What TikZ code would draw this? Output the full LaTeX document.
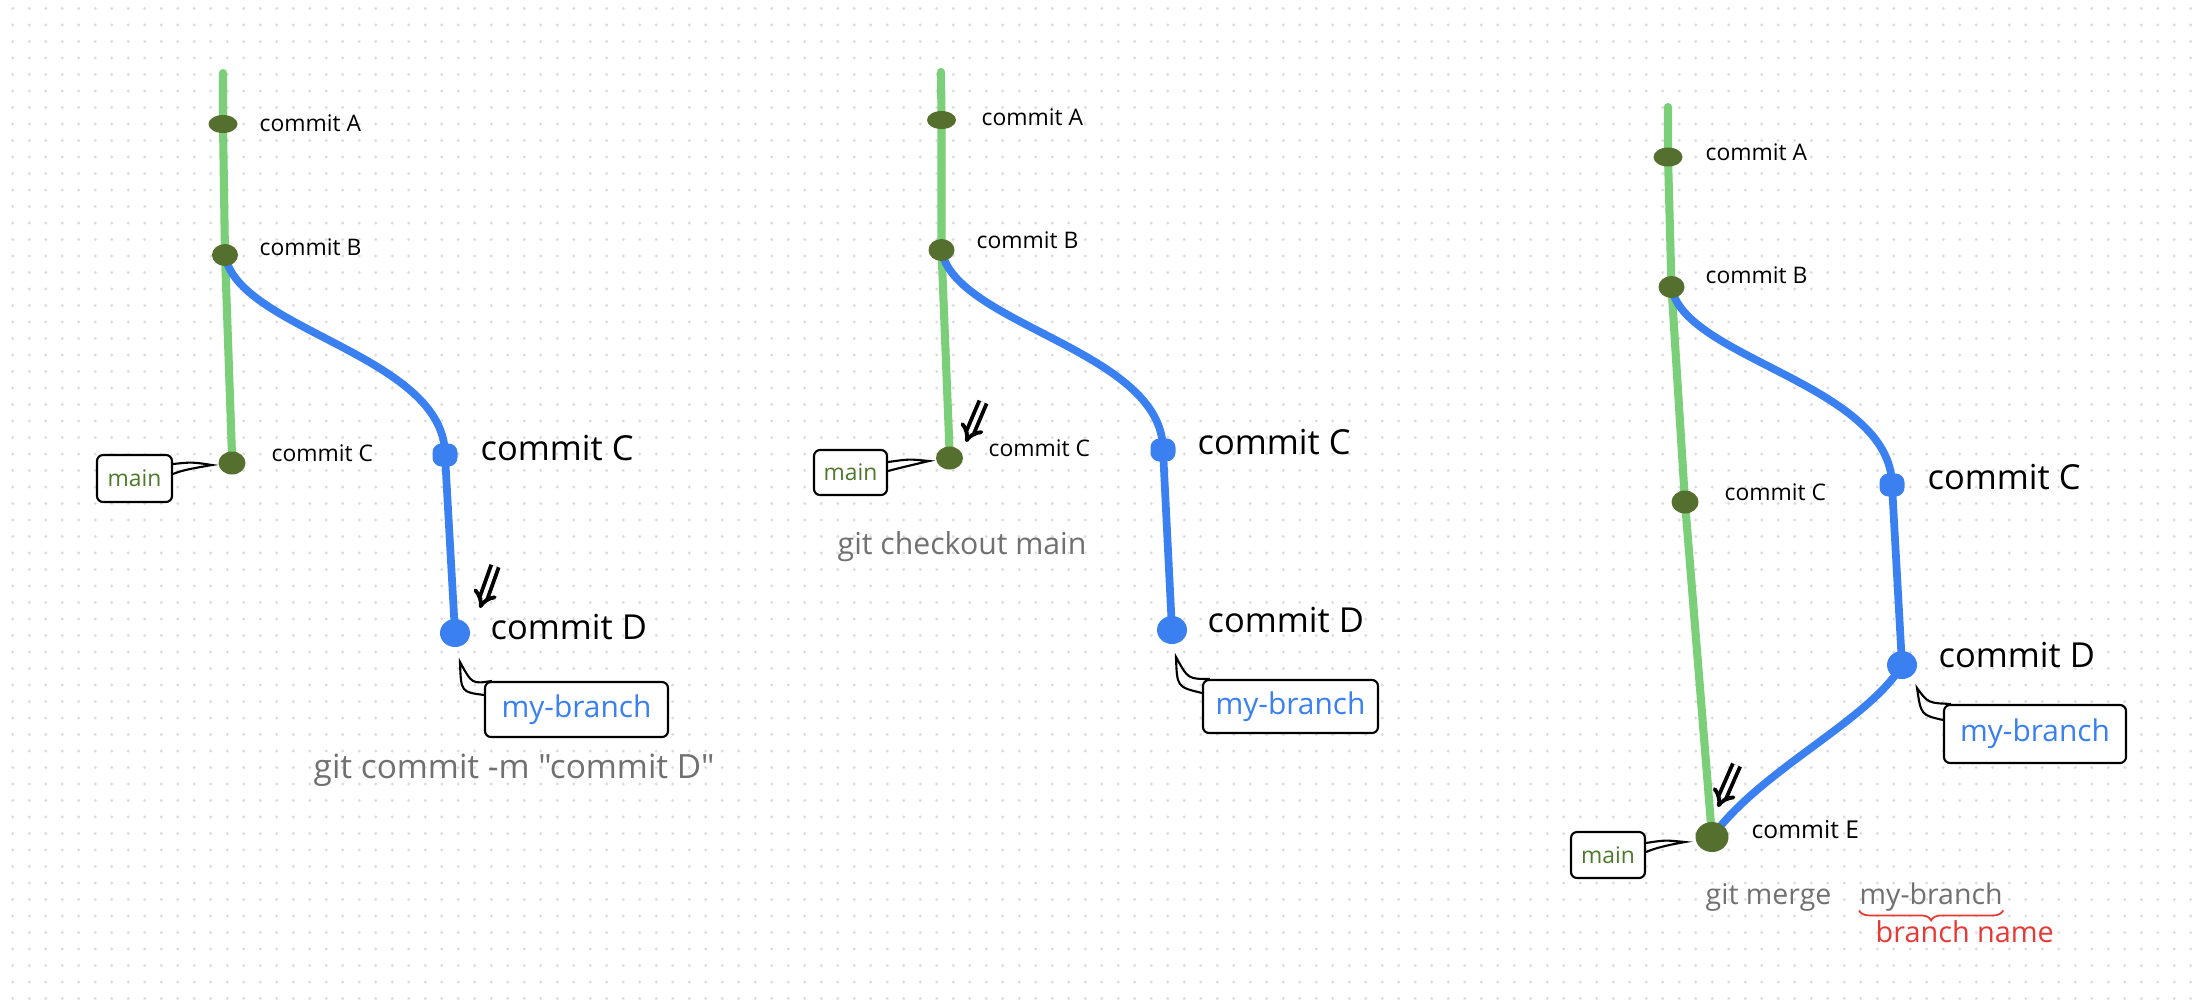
\documentclass[tikz,border=0pt]{standalone}
\usepackage{fontspec}
\setmainfont{Open Sans}
\newfontfamily\cmdfont{Open Sans}[Ligatures=TeXOff]
\usetikzlibrary{shapes.geometric,arrows.meta,decorations.pathreplacing}
\pgfdeclarelayer{dotlayer}
\pgfdeclarelayer{linelayer}
\pgfsetlayers{dotlayer,linelayer,main}
\definecolor{gl}{HTML}{7ACF78}
\definecolor{dg}{HTML}{55702E}
\definecolor{mg}{HTML}{4C7A2A}
\definecolor{bl}{HTML}{3A80F0}
\definecolor{cg}{HTML}{707070}
\definecolor{rd}{HTML}{E53935}
\definecolor{dotc}{HTML}{DCDCDC}
\begin{document}
\begin{tikzpicture}[x=0.1mm,y=-0.1mm,
  gline/.style={draw=gl,line width=2.3pt,line cap=round},
  bline/.style={draw=bl,line width=2.2pt,line cap=round},
  gnode/.style={ellipse,fill=dg,inner sep=0pt},
  bsq/.style={rectangle,rounded corners=0.9mm,fill=bl,inner sep=0pt,minimum width=2.5mm,minimum height=2.3mm},
  bdot/.style={ellipse,fill=bl,inner sep=0pt,minimum width=3mm,minimum height=2.8mm},
  slbl/.style={anchor=west,inner sep=0pt,font=\fontsize{6.5}{8}\selectfont},
  blbl/.style={anchor=west,inner sep=0pt,font=\fontsize{9.8}{12}\selectfont},
  tag/.style={draw=black,line width=0.6pt,rounded corners=0.6mm,inner sep=0pt,fill=white},
  tagline/.style={draw=black,line width=0.6pt},
  cmd/.style={anchor=west,inner sep=0pt,text=cg},
  moved/.style={draw=black,line width=1.1pt,double distance=1.1pt,-{Implies[length=1.8mm]}}
]
\begin{pgfonlayer}{dotlayer}
\fill[white] (0,0) rectangle (2206,1000);
\foreach \j in {0,...,60}{
  \fill[dotc] \foreach \i in {0,...,132}{(12.8+16.5*\i,8.5+16.5*\j) circle (0.16mm)};
}
\end{pgfonlayer}
\useasboundingbox (0,0) rectangle (2206,1000);

% ---------------- Panel 1 ----------------
\coordinate (G1) at (223,73);
\node[gnode,minimum width=2.9mm,minimum height=1.8mm] (A1) at (223,124) {};
\node[gnode,minimum width=2.6mm,minimum height=2.2mm] (B1) at (225,255) {};
\node[gnode,minimum width=2.7mm,minimum height=2.3mm] (C1) at (232,463) {};
\node[bsq] (BC1) at (445,455) {};
\node[bdot] (BD1) at (455,633) {};
\begin{pgfonlayer}{linelayer}
\draw[gline] (G1) -- (A1.center) -- (B1.center) -- ([yshift=0.8mm]C1.center);
\draw[bline] (B1.center) .. controls (237,330) and (445,355) .. (BC1.center);
\draw[bline] (BC1.center) -- (BD1.center);
\end{pgfonlayer}
\node[slbl] (lA1) at (259,123) {commit A};
\node[slbl] (lB1) at (259,247) {commit B};
\node[slbl] (lC1) at (271,453) {commit C};
\node[blbl] (lBC1) at (480,448) {commit C};
\node[blbl] (lBD1) at (490,627) {commit D};
\coordinate (ar1s) at (495,566);
\coordinate (ar1e) at (480,608);
\draw[moved] (ar1s) -- (ar1e);
\coordinate (t1) at (212,465);
\node[tag,minimum width=7.5mm,minimum height=4.7mm,font=\fontsize{6.5}{7}\selectfont,text=mg] (m1) at (134.5,478.5) {main};
\draw[tagline] ([yshift=1.45mm]m1.east) .. controls (192,462) .. (t1) .. controls (195,468) and (182,470) .. ([yshift=0.45mm]m1.east);
\node[tag,minimum width=18.3mm,minimum height=5.5mm,font=\fontsize{8.5}{10}\selectfont,text=bl] (mb1) at (576.5,709.5) {my-branch};
\coordinate (t2) at (460,662);
\draw[tagline] ([yshift=-1.4mm]mb1.north west) .. controls (461,692) .. (t2) .. controls (472,684) .. ([xshift=0.8mm]mb1.north west);
\node[cmd,font=\cmdfont\fontsize{9.5}{11}\selectfont] (cmd1) at (313,770) {git commit -m "commit D"};

% ---------------- Panel 2 ----------------
\coordinate (G2) at (941,72);
\node[gnode,minimum width=2.9mm,minimum height=1.8mm] (A2) at (941.5,120) {};
\node[gnode,minimum width=2.6mm,minimum height=2.2mm] (B2) at (941.5,250) {};
\node[gnode,minimum width=2.7mm,minimum height=2.3mm] (C2) at (949.5,458) {};
\node[bsq] (BC2) at (1163,450) {};
\node[bdot] (BD2) at (1172,630) {};
\begin{pgfonlayer}{linelayer}
\draw[gline] (G2) -- (A2.center) -- (B2.center) -- ([yshift=0.8mm]C2.center);
\draw[bline] (B2.center) .. controls (954,325) and (1163,350) .. (BC2.center);
\draw[bline] (BC2.center) -- (BD2.center);
\end{pgfonlayer}
\node[slbl] (lA2) at (981,117) {commit A};
\node[slbl] (lB2) at (976,240) {commit B};
\node[slbl] (lC2) at (988,448) {commit C};
\node[blbl] (lBC2) at (1197,442) {commit C};
\node[blbl] (lBD2) at (1207,620) {commit D};
\coordinate (ar2s) at (983,402);
\coordinate (ar2e) at (966,442);
\draw[moved] (ar2s) -- (ar2e);
\node[tag,minimum width=7.3mm,minimum height=4.5mm,font=\fontsize{6.5}{7}\selectfont,text=mg] (m2) at (850.5,472.5) {main};
\coordinate (t3) at (929,461);
\draw[tagline] ([yshift=1.05mm]m2.east) .. controls (909,459) .. (t3) .. controls (912,465) and (899,468) .. ([yshift=0.15mm]m2.east);
\node[tag,minimum width=17.5mm,minimum height=5.3mm,font=\fontsize{8.5}{10}\selectfont,text=bl] (mb2) at (1290.5,706.5) {my-branch};
\coordinate (t4) at (1176,657);
\draw[tagline] ([yshift=-1.4mm]mb2.north west) .. controls (1177,687) .. (t4) .. controls (1188,679) .. ([xshift=0.8mm]mb2.north west);
\node[cmd,font=\cmdfont\fontsize{8.6}{10}\selectfont] (cmd2) at (837,547) {git checkout main};

% ---------------- Panel 3 ----------------
\coordinate (G3) at (1668,107);
\node[gnode,minimum width=2.9mm,minimum height=1.9mm] (A3) at (1668,157) {};
\node[gnode,minimum width=2.6mm,minimum height=2.2mm] (B3) at (1671.5,287) {};
\node[gnode,minimum width=2.7mm,minimum height=2.3mm] (C3) at (1685,502) {};
\node[gnode,minimum width=3.3mm,minimum height=3mm] (E3) at (1712,837) {};
\node[bsq] (BC3) at (1892,485) {};
\node[bdot] (BD3) at (1902,665) {};
\begin{pgfonlayer}{linelayer}
\draw[gline] (G3) -- (A3.center) -- (B3.center) -- (C3.center) -- (E3.center);
\draw[bline] (B3.center) .. controls (1683,359) and (1891,384) .. (BC3.center);
\draw[bline] (BC3.center) -- (BD3.center);
\draw[bline] (BD3.center) .. controls (1870,720) and (1760,770) .. (E3.center);
\end{pgfonlayer}
\node[slbl] (lA3) at (1705,152) {commit A};
\node[slbl] (lB3) at (1705,275) {commit B};
\node[slbl] (lC3) at (1724,492) {commit C};
\node[blbl] (lBC3) at (1927,477) {commit C};
\node[blbl] (lBD3) at (1938,655) {commit D};
\node[anchor=west,inner sep=0pt,font=\fontsize{7}{8}\selectfont] (lE3) at (1751,830) {commit E};
\coordinate (ar3s) at (1736.5,765);
\coordinate (ar3e) at (1718,807);
\draw[moved] (ar3s) -- (ar3e);
\node[tag,minimum width=7.4mm,minimum height=4.6mm,font=\fontsize{6.5}{7}\selectfont,text=mg] (m3) at (1608,855) {main};
\coordinate (t5) at (1685,842);
\draw[tagline] ([yshift=1.2mm]m3.east) .. controls (1665,840) .. (t5) .. controls (1668,845) and (1655,848) .. ([yshift=0.3mm]m3.east);
\node[tag,minimum width=18.2mm,minimum height=5.8mm,font=\fontsize{8.5}{10}\selectfont,text=bl] (mb3) at (2035,734) {my-branch};
\coordinate (t6) at (1917,688);
\draw[tagline] ([yshift=-1.6mm]mb3.north west) .. controls (1921,715) .. (t6) .. controls (1928,703) .. ([xshift=0.8mm]mb3.north west);
\node[cmd,font=\cmdfont\fontsize{8.1}{10}\selectfont] (gm) at (1705,897) {git merge};
\node[cmd,font=\cmdfont\fontsize{8.1}{10}\selectfont] (gmb) at (1859,897) {my-branch};
\draw[rd,line width=0.5pt,decorate,decoration={brace,amplitude=1mm,mirror}] ([yshift=-0.6mm]gmb.base west) -- ([yshift=-0.6mm]gmb.base east);
\node[cmd,text=rd,font=\fontsize{8.2}{10}\selectfont] (bn) at (1875,932) {branch name};
\end{tikzpicture}
\end{document}
